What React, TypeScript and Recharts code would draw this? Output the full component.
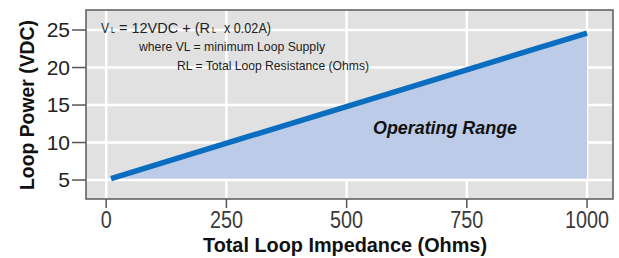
import React from "react";
import { ComposedChart, Area, XAxis, YAxis, CartesianGrid, ReferenceArea } from "recharts";

const impedance = [10, 1000];
const loopPower = [5.2, 24.6];
const xTicks = [0, 250, 500, 750, 1000];
const yTicks = [5, 10, 15, 20, 25];

const data = impedance.map((r, i) => ({ r, v: loopPower[i] }));

const FONT = "'Liberation Sans Narrow', 'Liberation Sans', Arial, sans-serif";
const XMIN = -42;
const XMAX = 1054;
const YMIN = 2.47;
const YMAX = 27.67;

const XTick = (props: any) => {
  const { x, y, payload } = props;
  const s = String(payload.value);
  return (
    <text x={x} y={y + 18} textAnchor="middle" fontFamily={FONT} fontSize={23} fill="#3a3a3a" textLength={s.length * 11} lengthAdjust="spacingAndGlyphs">
      {s}
    </text>
  );
};

const YTick = (props: any) => {
  const { x, y, payload } = props;
  return (
    <text x={x} y={y + 7} textAnchor="end" fontFamily="'Liberation Sans', Arial, sans-serif" fontSize={21} fill="#222">
      {payload.value}
    </text>
  );
};

const T = (p: any) => (
  <text x={p.x} y={p.y} fontFamily={FONT} fontSize={p.size} fill="#222" textLength={p.w} lengthAdjust="spacingAndGlyphs">
    {p.children}
  </text>
);

export default function App() {
  return (
    <div style={{ position: "absolute", left: 0, top: 0, width: 619, height: 258, background: "#fff" }}>
      <ComposedChart width={619} height={258} data={data} margin={{ top: 10, right: 6, bottom: 0, left: 0 }}>
        <CartesianGrid stroke="#ffffff" strokeWidth={2.5} fill="#e1e1e1" verticalValues={xTicks} horizontalValues={yTicks} />
        <XAxis
          dataKey="r"
          type="number"
          domain={[XMIN, XMAX]}
          ticks={xTicks}
          allowDataOverflow
          height={59}
          tickSize={9}
          tickLine={{ stroke: "#555", strokeWidth: 1.5 }}
          axisLine={false}
          tick={<XTick />}
        />
        <YAxis
          type="number"
          domain={[YMIN, YMAX]}
          ticks={yTicks}
          allowDataOverflow
          width={86}
          tickSize={14}
          tickLine={{ stroke: "#555", strokeWidth: 1.5 }}
          axisLine={false}
          tick={<YTick />}
        />
        <Area
          type="linear"
          dataKey="v"
          baseValue={loopPower[0]}
          fill="#bccbe8"
          fillOpacity={1}
          stroke="#0a6dbf"
          strokeWidth={5.5}
          isAnimationActive={false}
        />
        <ReferenceArea x1={XMIN} x2={XMAX} y1={YMIN} y2={YMAX} fill="none" stroke="#5a5a5a" strokeWidth={1.5} ifOverflow="visible" />
      </ComposedChart>
      <svg width={619} height={258} style={{ position: "absolute", left: 0, top: 0, pointerEvents: "none" }}>
        <T x={101} y={33} size={14.5} w={8}>V</T>
        <T x={111} y={33} size={9} w={4}>L</T>
        <T x={119} y={33} size={14.5} w={91}>= 12VDC + (R</T>
        <T x={212} y={33} size={9} w={4}>L</T>
        <T x={224} y={33} size={14.5} w={47}>x 0.02A)</T>
        <T x={139} y={51} size={13} w={186}>where VL = minimum Loop Supply</T>
        <T x={177} y={70} size={13} w={192}>RL = Total Loop Resistance (Ohms)</T>
        <text x={373} y={134} fontFamily={FONT} fontSize={18} fontWeight="bold" fontStyle="italic" fill="#111" textLength={144} lengthAdjust="spacingAndGlyphs">
          Operating Range
        </text>
        <text x={203} y={252} fontFamily={FONT} fontSize={20} fontWeight="bold" fill="#111" textLength={284} lengthAdjust="spacingAndGlyphs">
          Total Loop Impedance (Ohms)
        </text>
        <text transform="translate(34,190) rotate(-90)" x={0} y={0} fontFamily={FONT} fontSize={20} fontWeight="bold" fill="#111" textLength={170} lengthAdjust="spacingAndGlyphs">
          Loop Power (VDC)
        </text>
      </svg>
    </div>
  );
}
